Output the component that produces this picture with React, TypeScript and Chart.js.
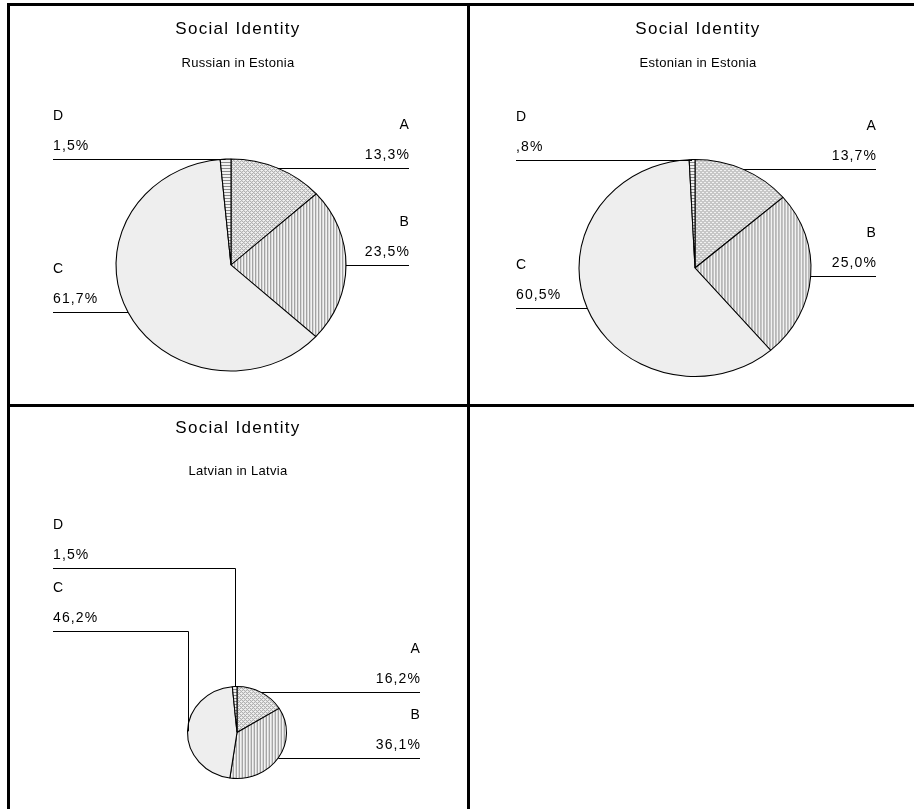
import React, { useEffect, useRef } from "react";
import { Chart, PieController, ArcElement } from "chart.js";

Chart.register(PieController, ArcElement);

// Response categories and shares (%) per group
const categories = ["A", "B", "C", "D"];
const russianInEstonia = [13.3, 23.5, 61.7, 1.5];
const estonianInEstonia = [13.7, 25.0, 60.5, 0.8];
const latvianInLatvia = [16.2, 36.1, 46.2, 1.5];

const chartTitle = "Social Identity";
const groupNames = ["Russian in Estonia", "Estonian in Estonia", "Latvian in Latvia"];
const groupValues = [russianInEstonia, estonianInEstonia, latvianInLatvia];

const FONT = '"Liberation Sans", Arial, Helvetica, sans-serif';

// Percent with comma decimal and no leading zero below 1 (",8%")
function formatPercent(v: number): string {
  let s = v.toFixed(1).replace(".", ",");
  if (s.startsWith("0,")) s = s.slice(1);
  return s + "%";
}

type PanelLayout = {
  left: number;
  top: number;
  width: number;
  height: number;
  centerX: number;
  titleY: number;
  subtitleY: number;
  cx: number;
  cy: number;
  rx: number;
  ry: number;
  labelLeft: number;
  labelRight: number;
  elbowY: (number | null)[];
};

// Page-space geometry of each cell of the grid
const layouts: PanelLayout[] = [
  {
    left: 10, top: 6, width: 457, height: 398,
    centerX: 238, titleY: 29, subtitleY: 63,
    cx: 231, cy: 265, rx: 115, ry: 106,
    labelLeft: 53, labelRight: 409,
    elbowY: [null, null, null, null],
  },
  {
    left: 470, top: 6, width: 444, height: 398,
    centerX: 698, titleY: 29, subtitleY: 63,
    cx: 695, cy: 268, rx: 116, ry: 108.5,
    labelLeft: 516, labelRight: 876,
    elbowY: [null, null, null, null],
  },
  {
    left: 10, top: 407, width: 457, height: 402,
    centerX: 238, titleY: 428, subtitleY: 471,
    cx: 237, cy: 732.5, rx: 49.5, ry: 46,
    labelLeft: 53, labelRight: 420,
    elbowY: [null, null, 631, 568],
  },
];

function tile(w: number, h: number, paint: (x: number, y: number) => string): HTMLCanvasElement {
  const c = document.createElement("canvas");
  c.width = w;
  c.height = h;
  const g = c.getContext("2d")!;
  for (let y = 0; y < h; y++) {
    for (let x = 0; x < w; x++) {
      g.fillStyle = paint(x, y);
      g.fillRect(x, y, 1, 1);
    }
  }
  return c;
}

// Monochrome fills: fine crosshatch, vertical stripes, flat grey, horizontal stripes
function makeFills(ctx: CanvasRenderingContext2D, sx: number): (CanvasPattern | string)[] {
  const cross = tile(4, 4, (x, y) =>
    (x + y) % 4 === 0 || (x - y + 4) % 4 === 0 ? "#9c9c9c" : "#f2f2f2"
  );
  const vert = tile(3, 1, (x) => (x === 0 ? "#8a8a8a" : "#f2f2f2"));
  const horiz = tile(1, 3, (_x, y) => (y === 0 ? "#8a8a8a" : "#f2f2f2"));
  const fix = (p: CanvasPattern | null): CanvasPattern | string => {
    if (!p) return "#cccccc";
    try {
      p.setTransform(new DOMMatrix().scale(1 / sx, 1));
    } catch (e) {
      /* older engines: keep untransformed */
    }
    return p;
  };
  return [
    fix(ctx.createPattern(cross, "repeat")),
    fix(ctx.createPattern(vert, "repeat")),
    "#eeeeee",
    fix(ctx.createPattern(horiz, "repeat")),
  ];
}

function PiePanel({ index }: { index: number }) {
  const ref = useRef<HTMLCanvasElement | null>(null);
  const L = layouts[index];

  useEffect(() => {
    const canvas = ref.current;
    if (!canvas) return;
    const ctx = canvas.getContext("2d")!;
    const sx = L.rx / L.ry;
    const values = groupValues[index];

    const cxL = L.cx - L.left;
    const cyL = L.cy - L.top;

    const decor = {
      id: "panelDecor",
      beforeDatasetsDraw(chart: any) {
        const c = chart.ctx;
        c.save();
        c.translate(cxL, cyL);
        c.scale(sx, 1);
        c.translate(-cxL, -cyL);
      },
      afterDatasetsDraw(chart: any) {
        chart.ctx.restore();
      },
      afterDraw(chart: any) {
        const c: CanvasRenderingContext2D = chart.ctx;
        c.save();
        c.fillStyle = "#000";
        c.textBaseline = "middle";

        c.textAlign = "center";
        c.font = `17px ${FONT}`;
        (c as any).letterSpacing = "1.3px";
        c.fillText(chartTitle, L.centerX - L.left, L.titleY - L.top);
        c.font = `13px ${FONT}`;
        (c as any).letterSpacing = "0.3px";
        c.fillText(groupNames[index], L.centerX - L.left, L.subtitleY - L.top);

        c.font = `14px ${FONT}`;
        (c as any).letterSpacing = "1.1px";
        c.strokeStyle = "#000";
        c.lineWidth = 1;

        const meta = chart.getDatasetMeta(0);
        meta.data.forEach((arc: any, i: number) => {
          const p = arc.getProps(["x", "y", "startAngle", "endAngle", "outerRadius"], true);
          const mid = (p.startAngle + p.endAngle) / 2;
          const px = p.x + Math.cos(mid) * p.outerRadius * sx;
          const py = p.y + Math.sin(mid) * p.outerRadius;
          const right = px >= p.x;
          const edge = (right ? L.labelRight : L.labelLeft) - L.left;
          const elbow = L.elbowY[i];
          const lineY = elbow != null ? elbow - L.top : py;
          const ly = Math.round(lineY) + 0.5;

          c.beginPath();
          c.moveTo(edge, ly);
          if (elbow != null) {
            const vx = Math.round(px) + 0.5;
            c.lineTo(vx, ly);
            c.lineTo(vx, py);
          } else {
            c.lineTo(px, ly);
          }
          c.stroke();

          c.textAlign = right ? "right" : "left";
          const tx = right ? edge + 1 : edge;
          c.fillText(chart.data.labels[i], tx, ly - 43);
          c.fillText(formatPercent(chart.data.datasets[0].data[i]), tx, ly - 13);
        });
        c.restore();
      },
    };

    const chart = new Chart(canvas, {
      type: "pie",
      data: {
        labels: categories,
        datasets: [
          {
            data: values,
            backgroundColor: makeFills(ctx, sx),
            borderColor: "#000000",
            borderWidth: 1,
            radius: L.ry,
            clip: false,
          } as any,
        ],
      },
      options: {
        responsive: false,
        animation: false,
        devicePixelRatio: 1,
        events: [],
        layout: {
          padding: {
            left: cxL - L.ry,
            right: L.width - cxL - L.ry,
            top: cyL - L.ry,
            bottom: L.height - cyL - L.ry,
          },
        },
        plugins: {
          legend: { display: false },
          tooltip: { enabled: false },
          title: { display: false },
        },
      } as any,
      plugins: [decor],
    });
    return () => chart.destroy();
  }, [index]);

  return (
    <canvas
      ref={ref}
      width={L.width}
      height={L.height}
      style={{ position: "absolute", left: L.left, top: L.top, width: L.width, height: L.height }}
    />
  );
}

const rule = (left: number, top: number, width: number, height: number) => (
  <div style={{ position: "absolute", left, top, width, height, background: "#000" }} />
);

export default function App() {
  return (
    <div
      style={{
        position: "fixed",
        left: 0,
        top: 0,
        width: 914,
        height: 809,
        overflow: "hidden",
        background: "#fff",
      }}
    >
      <PiePanel index={0} />
      <PiePanel index={1} />
      <PiePanel index={2} />
      {rule(7, 3, 907, 3)}
      {rule(7, 404, 907, 3)}
      {rule(7, 3, 3, 806)}
      {rule(467, 3, 3, 806)}
    </div>
  );
}
